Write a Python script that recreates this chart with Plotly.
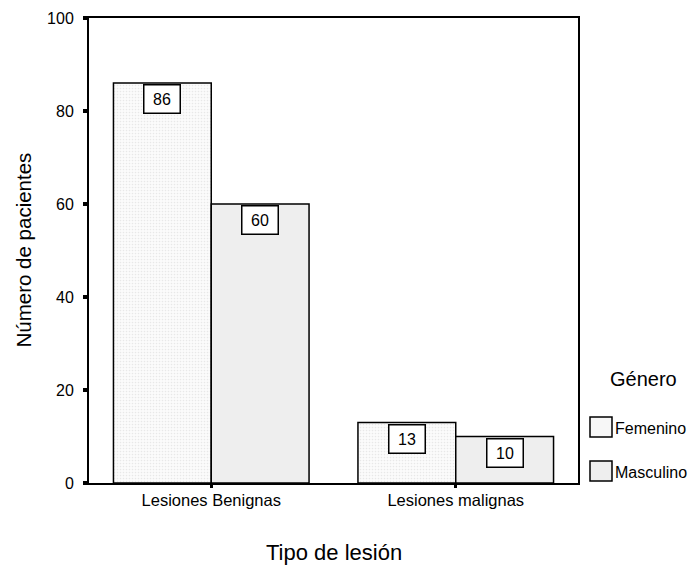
import plotly.graph_objects as go

# Patients by lesion type and gender
categories = ["Lesiones Benignas", "Lesiones malignas"]
genders = ["Femenino", "Masculino"]
femenino = [86, 13]
masculino = [60, 10]

FONT = "Liberation Sans, Arial, sans-serif"
W, H = 699, 566
L, R, T, B = 89, 121, 18, 83
BARGAP = 0.2

fem_style = dict(
    color="#f7f7f7",
    line=dict(color="black", width=1.5),
    pattern=dict(shape=".", fgcolor="#d6d6d6", bgcolor="#fbfbfb",
                 size=3, solidity=0.25, fillmode="overlay"),
)
mas_style = dict(color="#eeeeee", line=dict(color="black", width=1.5))

fig = go.Figure()
fig.add_trace(go.Bar(x=categories, y=femenino, name=genders[0],
                     marker=fem_style, showlegend=False))
fig.add_trace(go.Bar(x=categories, y=masculino, name=genders[1],
                     marker=mas_style, showlegend=False))

# boxed value labels just under each bar top
offset = (1 - BARGAP) / 4
annotations = []
for series, shift in ((femenino, -offset), (masculino, offset)):
    for i, v in enumerate(series):
        annotations.append(dict(
            x=i + shift, y=v, xref="x", yref="y", text=str(v),
            showarrow=False, yanchor="top", yshift=-1,
            font=dict(family=FONT, size=16, color="black"),
            bgcolor="white", bordercolor="black", borderwidth=1.5,
            width=31, height=23, borderpad=2,
        ))

# paper-coordinate helpers for titles and the legend
pw, ph = W - L - R, H - T - B


def px(x):
    return (x - L) / pw


def py(y):
    return (H - B - y) / ph


# axis titles
annotations.append(dict(
    x=0.5, y=py(552), xref="paper", yref="paper", text="Tipo de lesión",
    showarrow=False, xanchor="center", yanchor="middle",
    font=dict(family=FONT, size=22, color="black"),
))
annotations.append(dict(
    x=px(23), y=0.5, xref="paper", yref="paper", text="Número de pacientes",
    showarrow=False, xanchor="center", yanchor="middle", textangle=-90,
    font=dict(family=FONT, size=20.5, color="black"),
))

# legend
annotations.append(dict(
    x=px(643), y=py(379), xref="paper", yref="paper", text="Género",
    showarrow=False, xanchor="center", yanchor="middle",
    font=dict(family=FONT, size=20, color="black"),
))
shapes = []
for k, (name, style) in enumerate(((genders[0], fem_style), (genders[1], mas_style))):
    y0 = 417 + k * 44
    shapes.append(dict(
        type="rect", xref="paper", yref="paper",
        x0=px(590), x1=px(612), y0=py(y0 + 20), y1=py(y0),
        fillcolor=style["color"], line=dict(color="black", width=1.5),
    ))
    annotations.append(dict(
        x=px(613), y=py(y0 + 11), xref="paper", yref="paper", text=name,
        showarrow=False, xanchor="left", yanchor="middle",
        font=dict(family=FONT, size=16, color="black"),
    ))

fig.update_layout(
    width=W, height=H,
    margin=dict(l=L, r=R, t=T, b=B, pad=0, autoexpand=False),
    paper_bgcolor="white", plot_bgcolor="white",
    barmode="group", bargap=BARGAP, bargroupgap=0,
    font=dict(family=FONT, color="black"),
    annotations=annotations, shapes=shapes,
    xaxis=dict(
        type="category", range=[-0.5, 1.5], automargin=False,
        showline=True, linecolor="black", linewidth=2, mirror=True,
        ticks="outside", ticklen=3, tickwidth=3, tickcolor="black",
        ticklabelstandoff=-2,
        tickfont=dict(family=FONT, size=16.5),
        showgrid=False, zeroline=False,
    ),
    yaxis=dict(
        range=[0, 100], tickvals=[0, 20, 40, 60, 80, 100], automargin=False,
        showline=True, linecolor="black", linewidth=2, mirror=True,
        ticks="outside", ticklen=4, tickwidth=4, tickcolor="black",
        ticklabelstandoff=6,
        tickfont=dict(family=FONT, size=16),
        showgrid=False, zeroline=False,
    ),
)

fig.write_html("out.html")
